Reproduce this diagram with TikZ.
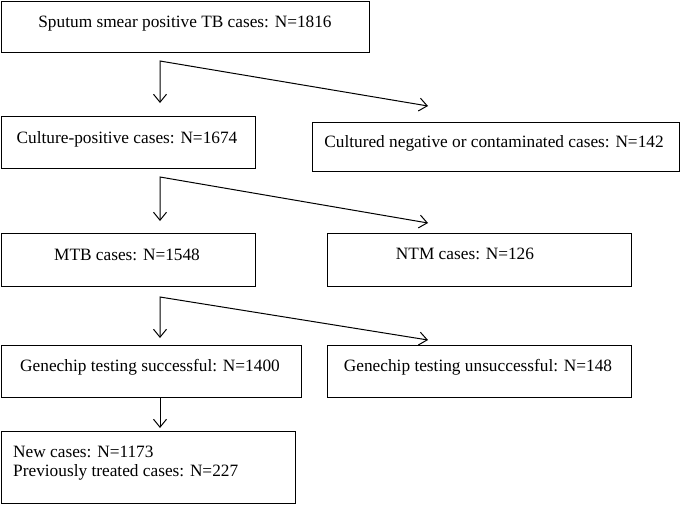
\documentclass[tikz,border=0pt]{standalone}
\usepackage{fontspec}
\setmainfont{Liberation Serif}
\usetikzlibrary{arrows.meta,calc}
\begin{document}
\begin{tikzpicture}[x=1pt,y=-1pt,
  box/.style={draw,line width=1pt,inner sep=0pt,anchor=north west},
  lbl/.style={anchor=base,inner sep=0pt,font=\fontsize{17.3}{20}\selectfont},
  fork/.style={line width=1pt,{Straight Barb[length=8pt,width=13pt]}-{Straight Barb[length=8pt,width=13pt]}},
  arr/.style={line width=1pt,-{Straight Barb[length=8pt,width=13pt]}}]
\useasboundingbox (0,0) rectangle (680,504);
% boxes
\node[box,minimum width=368pt,minimum height=51pt] (b1) at (1,1) {};
\node[box,minimum width=254pt,minimum height=52pt] (b2) at (1,116) {};
\node[box,minimum width=366.5pt,minimum height=49pt] (b3) at (312,122) {};
\node[box,minimum width=254pt,minimum height=53pt] (b4) at (1,233) {};
\node[box,minimum width=304pt,minimum height=53pt] (b5) at (327,233) {};
\node[box,minimum width=300pt,minimum height=52pt] (b6) at (1,345) {};
\node[box,minimum width=304pt,minimum height=52pt] (b7) at (327,345) {};
\node[box,minimum width=294pt,minimum height=72pt] (b8) at (1,431) {};
% texts
\node[lbl] (t1) at (185,27) {Sputum smear positive TB cases: N=1816};
\node[lbl] (t2) at (127,143) {Culture-positive cases: N=1674};
\node[lbl] (t3) at (494,147) {Cultured negative or contaminated cases: N=142};
\node[lbl] (t4) at (127,260) {MTB cases: N=1548};
\node[lbl] (t5) at (465,259) {NTM cases: N=126};
\node[lbl] (t6) at (150,371) {Genechip testing successful: N=1400};
\node[lbl] (t7) at (478,371) {Genechip testing unsuccessful: N=148};
\node[lbl,anchor=base west] (t8a) at (13,457) {New cases: N=1173};
\node[lbl,anchor=base west] (t8b) at (13,476) {Previously treated cases: N=227};
% connectors
\coordinate (f1) at ($(b1.south west)+(159,8)$);
\coordinate (a1) at ($(b2.north west)+(159,-13)$);
\coordinate (d1) at ($(b3.north west)+(116,-16)$);
\draw[fork] (a1) -- (f1) -- (d1);
\coordinate (f2) at ($(b2.south west)+(159,8)$);
\coordinate (a2) at ($(b4.north west)+(159,-12)$);
\coordinate (d2) at ($(b5.north west)+(101,-10)$);
\draw[fork] (a2) -- (f2) -- (d2);
\coordinate (f3) at ($(b4.south west)+(159,10)$);
\coordinate (a3) at ($(b6.north west)+(159,-7)$);
\coordinate (d3) at ($(b7.north west)+(101,-5)$);
\draw[fork] (a3) -- (f3) -- (d3);
\coordinate (f4) at ($(b6.south west)+(159,0)$);
\coordinate (a4) at ($(b8.north west)+(159,-3)$);
\draw[arr] (f4) -- (a4);
\end{tikzpicture}
\end{document}
